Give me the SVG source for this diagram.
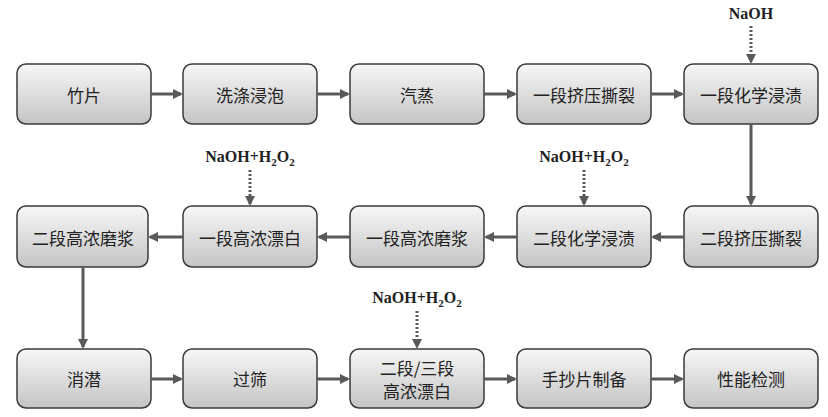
<svg xmlns="http://www.w3.org/2000/svg" width="828" height="417" viewBox="0 0 828 417">
<defs>
<linearGradient id="g" x1="0" y1="0" x2="0" y2="1"><stop offset="0" stop-color="#f7f7f7"/><stop offset="1" stop-color="#c4c4c4"/></linearGradient>
<marker id="a" markerWidth="10" markerHeight="10" refX="8" refY="5" orient="auto" markerUnits="userSpaceOnUse"><path d="M0,0 L10,5 L0,10 z" fill="#595959"/></marker>
</defs>
<style>
.b{fill:url(#g);stroke:#3a3a3a;stroke-width:1.5}
.t{font-family:"Noto Sans CJK SC",sans-serif;font-size:17px;fill:#222;text-anchor:middle;dominant-baseline:central}
.c{stroke:#595959;stroke-width:3;fill:none;marker-end:url(#a)}
.d{stroke:#595959;stroke-width:3;stroke-dasharray:2 2;fill:none;marker-end:url(#a)}
.f{font-family:"Liberation Serif",serif;font-weight:bold;font-size:16px;fill:#222;text-anchor:middle}
</style>
<rect width="828" height="417" fill="#fff"/>
<g id="n1"><rect class="b" x="17" y="64" width="134" height="60" rx="9"/><text class="t" x="84" y="94">竹片</text></g>
<g id="n2"><rect class="b" x="183" y="64" width="134" height="60" rx="9"/><text class="t" x="250" y="94">洗涤浸泡</text></g>
<g id="n3"><rect class="b" x="350" y="64" width="134" height="60" rx="9"/><text class="t" x="417" y="94">汽蒸</text></g>
<g id="n4"><rect class="b" x="517" y="64" width="134" height="60" rx="9"/><text class="t" x="584" y="94">一段挤压撕裂</text></g>
<g id="n5"><rect class="b" x="684" y="64" width="134" height="60" rx="9"/><text class="t" x="751" y="94">一段化学浸渍</text></g>
<g id="n6"><rect class="b" x="684" y="206" width="134" height="61" rx="9"/><text class="t" x="751" y="237">二段挤压撕裂</text></g>
<g id="n7"><rect class="b" x="517" y="206" width="134" height="61" rx="9"/><text class="t" x="584" y="237">二段化学浸渍</text></g>
<g id="n8"><rect class="b" x="350" y="206" width="134" height="61" rx="9"/><text class="t" x="417" y="237">一段高浓磨浆</text></g>
<g id="n9"><rect class="b" x="183" y="206" width="134" height="61" rx="9"/><text class="t" x="250" y="237">一段高浓漂白</text></g>
<g id="n10"><rect class="b" x="17" y="206" width="131" height="61" rx="9"/><text class="t" x="83" y="237">二段高浓磨浆</text></g>
<g id="n11"><rect class="b" x="17" y="349" width="134" height="59" rx="9"/><text class="t" x="84" y="378">消潜</text></g>
<g id="n12"><rect class="b" x="183" y="349" width="134" height="59" rx="9"/><text class="t" x="250" y="378">过筛</text></g>
<g id="n13"><rect class="b" x="350" y="349" width="134" height="59" rx="9"/><text class="t" x="417" y="367">二段/三段</text><text class="t" x="417" y="390">高浓漂白</text></g>
<g id="n14"><rect class="b" x="517" y="349" width="134" height="59" rx="9"/><text class="t" x="584" y="378">手抄片制备</text></g>
<g id="n15"><rect class="b" x="684" y="349" width="134" height="59" rx="9"/><text class="t" x="751" y="378">性能检测</text></g>
<g id="labels">
<text class="f" x="751" y="19">NaOH</text>
<text class="f" x="250" y="162">NaOH+H<tspan font-size="11" dy="4">2</tspan><tspan dy="-4">O</tspan><tspan font-size="11" dy="4">2</tspan></text>
<text class="f" x="584" y="162">NaOH+H<tspan font-size="11" dy="4">2</tspan><tspan dy="-4">O</tspan><tspan font-size="11" dy="4">2</tspan></text>
<text class="f" x="417" y="303">NaOH+H<tspan font-size="11" dy="4">2</tspan><tspan dy="-4">O</tspan><tspan font-size="11" dy="4">2</tspan></text>
</g>
<g id="connectors">
<path class="c" d="M151,94 H181"/>
<path class="c" d="M317,94 H348"/>
<path class="c" d="M484,94 H515"/>
<path class="c" d="M651,94 H682"/>
<path class="c" d="M751,124 V204"/>
<path class="c" d="M684,237 H653"/>
<path class="c" d="M517,237 H486"/>
<path class="c" d="M350,237 H319"/>
<path class="c" d="M183,237 H150"/>
<path class="c" d="M83,267 V347"/>
<path class="c" d="M151,379 H181"/>
<path class="c" d="M317,379 H348"/>
<path class="c" d="M484,379 H515"/>
<path class="c" d="M651,379 H682"/>
<path class="d" d="M751,26 V62"/>
<path class="d" d="M250,170 V204"/>
<path class="d" d="M584,170 V204"/>
<path class="d" d="M417,311 V347"/>
</g>
</svg>
